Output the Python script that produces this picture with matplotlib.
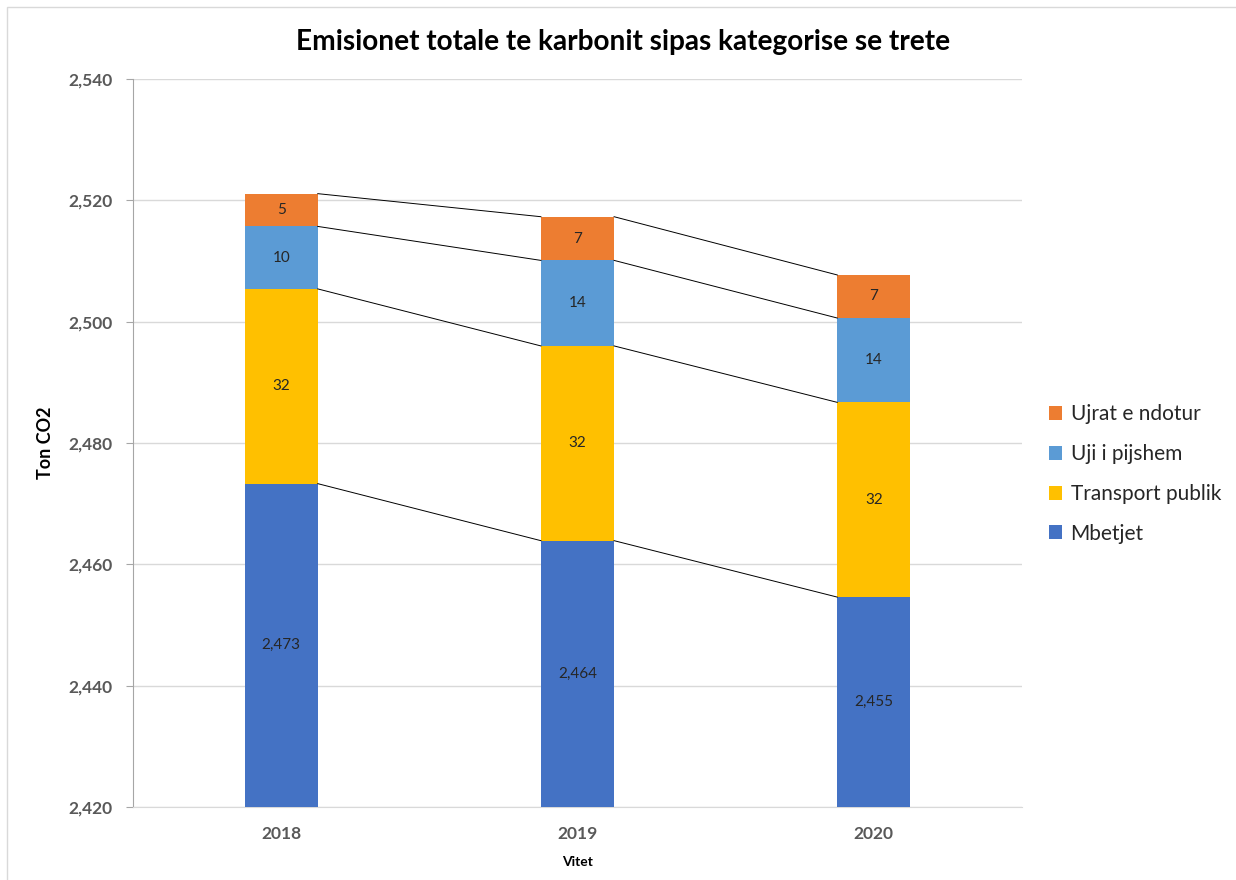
import matplotlib
matplotlib.use("Agg")
import matplotlib.pyplot as plt
from matplotlib.patches import Rectangle
import numpy as np

years = ["2018", "2019", "2020"]
series_names = ["Mbetjet", "Transport publik", "Uji i pijshem", "Ujrat e ndotur"]
mbetjet = [2473.3, 2463.9, 2454.6]
transport = [32.1, 32.1, 32.1]
uji = [10.3, 14.1, 13.9]
ujrat = [5.4, 7.2, 7.1]
colors = ["#4472C4", "#FFC000", "#5B9BD5", "#ED7D31"]

ymin, ymax, ystep = 2420, 2540, 20

FONT = ["Lato", "DejaVu Sans"]
plt.rcParams['font.family'] = FONT

fig = plt.figure(figsize=(12.36, 8.8), dpi=100)
ax = fig.add_axes([133/1236, 1-807/880, (1022-133)/1236, (807-79)/880])

x = np.arange(len(years))
width = 0.247
data = [mbetjet, transport, uji, ujrat]
bottoms = np.zeros(len(years))
tops_list = []
for vals, col, name in zip(data, colors, series_names):
    vals = np.array(vals)
    ax.bar(x, vals, width, bottom=bottoms, color=col, label=name, zorder=3)
    for xi, b, v in zip(x, bottoms, vals):
        if b == 0:
            yc = (ymin + v) / 2
        else:
            yc = b + v / 2
        ax.text(xi, yc, f"{int(round(v)):,}", ha="center", va="center", fontsize=11,
                color="#262626", zorder=5)
    bottoms = bottoms + vals
    tops_list.append(bottoms.copy())

# series lines
for tops in tops_list:
    for i in range(len(years) - 1):
        ax.plot([x[i] + width/2, x[i+1] - width/2], [tops[i], tops[i+1]],
                color="black", lw=0.7, zorder=4)

ax.set_ylim(ymin, ymax)
ax.set_xlim(-0.5, len(years) - 0.5)
ax.set_yticks(np.arange(ymin, ymax + 1, ystep))
ax.set_yticklabels([f"{v:,}" for v in np.arange(ymin, ymax + 1, ystep)])
ax.set_xticks(x)
ax.set_xticklabels(years)
ax.yaxis.grid(True, color="#D9D9D9", lw=1, zorder=0)
for s in ["top", "right"]:
    ax.spines[s].set_visible(False)
ax.spines["left"].set_color("#A6A6A6")
ax.spines["bottom"].set_color("#D9D9D9")
ax.tick_params(axis="y", length=5, color="#A6A6A6", labelsize=12.5, labelcolor="#595959", pad=10)
ax.tick_params(axis="x", length=0, labelsize=12.5, labelcolor="#595959", pad=14)
for lbl in ax.get_xticklabels() + ax.get_yticklabels():
    lbl.set_fontweight("bold")

ax.set_ylabel("Ton CO2", fontsize=13, fontweight="bold")
ax.yaxis.set_label_coords((54 - 133) / 889, 0.5)
ax.set_xlabel("Vitet", fontsize=10, fontweight="bold", labelpad=10)

fig.text(623 / 1236, 1 - 42/880,
         "Emisionet totale te karbonit sipas kategorise se trete",
         ha="center", va="center", fontsize=20.2, fontweight="bold", color="black")

handles, labels = ax.get_legend_handles_labels()
leg = fig.legend(handles[::-1], labels[::-1], loc="center left",
                 bbox_to_anchor=(1030/1236, 1 - 474/880), frameon=False,
                 fontsize=15, handlelength=0.65, handleheight=0.65,
                 handletextpad=0.4, labelspacing=0.95)
for t in leg.get_texts():
    t.set_color("#262626")

fig.add_artist(Rectangle((7/1236, -0.1), 1.2, 1 - 7/880 + 0.1, transform=fig.transFigure,
                         fill=False, edgecolor="#D9D9D9", lw=1))

fig.savefig("out.png", dpi=100, facecolor="white")
